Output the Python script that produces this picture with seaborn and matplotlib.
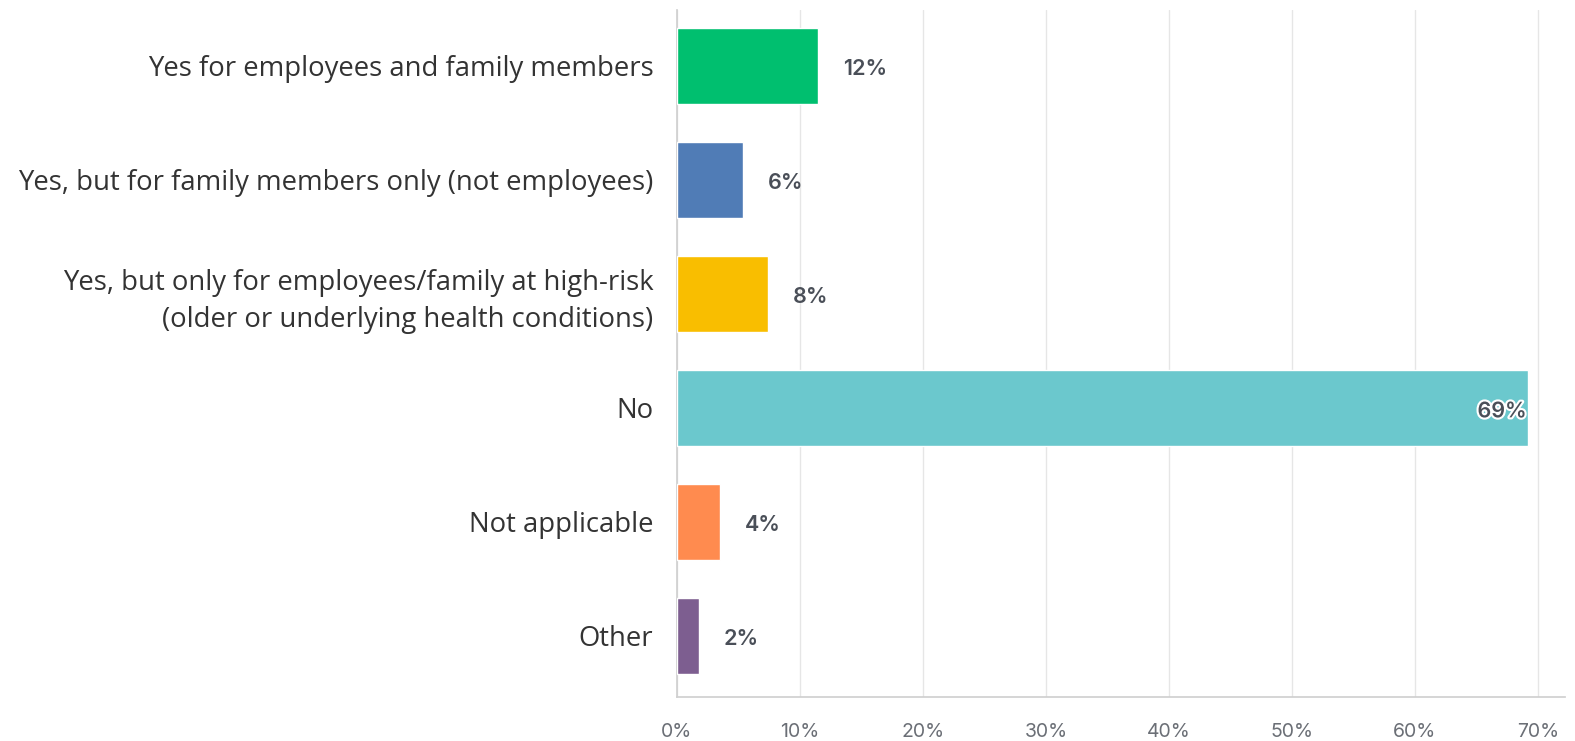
import matplotlib
matplotlib.use("Agg")
import matplotlib.pyplot as plt
import matplotlib.patheffects as pe
import seaborn as sns
import pandas as pd

categories = [
    "Yes for employees and family members",
    "Yes, but for family members only (not employees)",
    "Yes, but only for employees/family at high-risk\n(older or underlying health conditions)",
    "No",
    "Not applicable",
    "Other",
]
values = [11.5, 5.4, 7.4, 69.2, 3.5, 1.8]
labels = ["12%", "6%", "8%", "69%", "4%", "2%"]
colors = ["#00BF6F", "#507CB6", "#F9BE00", "#6BC8CD", "#FF8B4F", "#7D5E90"]
xticks = [0, 10, 20, 30, 40, 50, 60, 70]

sns.set_theme(style="white")
plt.rcParams['font.family'] = ['Open Sans', 'DejaVu Sans']

df = pd.DataFrame({"cat": categories, "val": values})

fig = plt.figure(figsize=(15.75, 7.41), dpi=100)
ax = fig.add_axes([677/1575, 1 - 697/741, (1565-677)/1575, (697-10)/741])

sns.barplot(data=df, x="val", y="cat", hue="cat", palette=colors, legend=False,
            orient="h", width=0.66, ax=ax, zorder=3, saturation=1)

ax.set_xlim(0, 72.2)
ax.set_ylim(5.535, -0.49)
ax.set_xticks(xticks)
ax.set_xticklabels([f"{t}%" for t in xticks], fontsize=14, color="#6b6f76", family=["Inter", "DejaVu Sans"])
ax.tick_params(axis="x", length=0, pad=19)
ax.tick_params(axis="y", length=0, pad=17)
for t in ax.get_yticklabels():
    t.set_fontsize(19.8)
    t.set_color("#333333")
    t.set_horizontalalignment("right")
    t.set_multialignment("right")
    t.set_linespacing(1.42)
ax.set_xlabel("")
ax.set_ylabel("")
ax.grid(axis="x", color="#e6e6e6", linewidth=1, zorder=0)
for s in ["top", "right"]:
    ax.spines[s].set_visible(False)
ax.spines["left"].set_color("#d0d0d0")
ax.spines["bottom"].set_color("#d0d0d0")

for i, (v, lab) in enumerate(zip(values, labels)):
    if v > 50:
        ax.text(v - 0.1, i + 0.03, lab, ha="right", va="center", fontsize=15.5, fontweight="semibold",
                color="#4a4f58", family=["Inter", "DejaVu Sans"], zorder=5,
                path_effects=[pe.withStroke(linewidth=3, foreground="white")])
    else:
        ax.text(v + 2.0, i + 0.03, lab, ha="left", va="center", fontsize=15.5, fontweight="semibold",
                color="#4a4f58", family=["Inter", "DejaVu Sans"], zorder=5)

fig.savefig("out.png", dpi=100)
